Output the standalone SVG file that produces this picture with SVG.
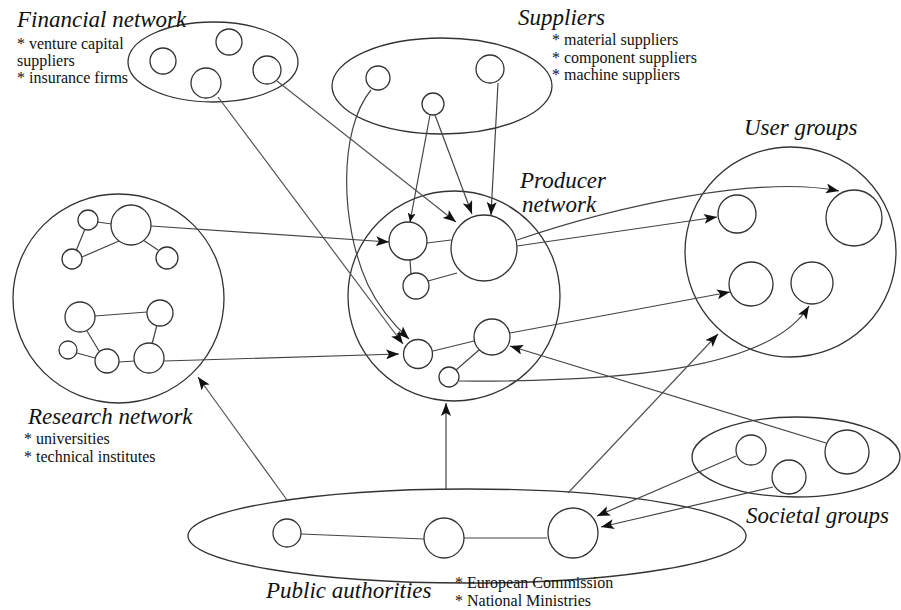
<svg xmlns="http://www.w3.org/2000/svg" width="901" height="610" viewBox="0 0 901 610">
<defs>
<marker id="ah" markerUnits="userSpaceOnUse" markerWidth="14" markerHeight="10" refX="13" refY="5" orient="auto">
<path d="M0,0 L13,5 L0,10 L3,5 Z" fill="#111"/>
</marker>
<marker id="ahs" markerUnits="userSpaceOnUse" markerWidth="10" markerHeight="8" refX="9" refY="4" orient="auto">
<path d="M0,0 L9,4 L0,8 L2,4 Z" fill="#111"/>
</marker>
</defs>
<style>
.grp{fill:none;stroke:#333;stroke-width:1.3}
.n{fill:#fff;stroke:#333;stroke-width:1.3}
.l{fill:none;stroke:#444;stroke-width:1.2}
.c{fill:none;stroke:#555;stroke-width:1.2}
.t{font-family:"Liberation Serif",serif;font-style:italic;font-size:23px;fill:#111}
.b{font-family:"Liberation Serif",serif;font-size:16px;fill:#111}
</style>
<rect width="901" height="610" fill="#fff"/>

<g id="financial-network">
<ellipse class="grp" cx="213" cy="62" rx="85" ry="40"/>
<circle class="n" cx="229" cy="42" r="13"/>
<circle class="n" cx="163" cy="61" r="13"/>
<circle class="n" cx="206" cy="83" r="15"/>
<circle class="n" cx="267" cy="70" r="14"/>
<text class="t" x="17" y="27">Financial network</text>
<text class="b" x="17" y="49">* venture capital</text>
<text class="b" x="17" y="66">suppliers</text>
<text class="b" x="17" y="83">* insurance firms</text>
</g>

<g id="suppliers">
<ellipse class="grp" cx="442" cy="86" rx="110" ry="48"/>
<circle class="n" cx="378" cy="78" r="12"/>
<circle class="n" cx="433" cy="104" r="11"/>
<circle class="n" cx="490" cy="69" r="14"/>
<text class="t" x="518" y="25">Suppliers</text>
<text class="b" x="552" y="45">* material suppliers</text>
<text class="b" x="552" y="63">* component suppliers</text>
<text class="b" x="552" y="80">* machine suppliers</text>
</g>

<g id="research-network">
<ellipse class="grp" cx="118.5" cy="298.5" rx="105.5" ry="104.5"/>
<g class="l">
<line x1="97" y1="222" x2="112" y2="224"/>
<line x1="85" y1="229" x2="76" y2="251"/>
<line x1="82" y1="257" x2="119" y2="241"/>
<line x1="143" y1="240" x2="158" y2="250"/>
<line x1="95" y1="316" x2="147" y2="312"/>
<line x1="157" y1="325" x2="152" y2="344"/>
<line x1="87" y1="331" x2="99" y2="351"/>
<line x1="77" y1="353" x2="95" y2="358"/>
<line x1="119" y1="362" x2="135" y2="361"/>
</g>
<circle class="n" cx="88" cy="220" r="10"/>
<circle class="n" cx="131" cy="225" r="20"/>
<circle class="n" cx="72" cy="259" r="10"/>
<circle class="n" cx="167" cy="258" r="11"/>
<circle class="n" cx="80" cy="317" r="15"/>
<circle class="n" cx="160" cy="313" r="13"/>
<circle class="n" cx="68" cy="350" r="9"/>
<circle class="n" cx="107" cy="361" r="12"/>
<circle class="n" cx="149" cy="358" r="15"/>
<text class="t" x="28" y="424">Research network</text>
<text class="b" x="24" y="444">* universities</text>
<text class="b" x="24" y="462">* technical institutes</text>
</g>

<g id="producer-network">
<ellipse class="grp" cx="454" cy="296" rx="106" ry="105"/>
<g class="l">
<line x1="427" y1="243" x2="451" y2="240"/>
<line x1="410" y1="260" x2="411" y2="274"/>
<line x1="428" y1="281" x2="457" y2="273"/>
<line x1="433" y1="351" x2="474" y2="341"/>
<line x1="456" y1="370" x2="479" y2="350"/>
</g>
<circle class="n" cx="408" cy="241" r="19"/>
<circle class="n" cx="484" cy="248" r="33"/>
<circle class="n" cx="416" cy="286" r="13"/>
<circle class="n" cx="418" cy="354" r="14.5"/>
<circle class="n" cx="492" cy="337" r="18"/>
<circle class="n" cx="449" cy="377" r="10"/>
<text class="t" x="520" y="188">Producer</text>
<text class="t" x="522" y="212">network</text>
</g>

<g id="user-groups">
<ellipse class="grp" cx="790.5" cy="252" rx="105.5" ry="105"/>
<circle class="n" cx="737" cy="214" r="19"/>
<circle class="n" cx="854" cy="218" r="28"/>
<circle class="n" cx="751" cy="284" r="22"/>
<circle class="n" cx="812" cy="283" r="21"/>
<text class="t" x="744" y="135">User groups</text>
</g>

<g id="societal-groups">
<ellipse class="grp" cx="796" cy="457" rx="104" ry="40"/>
<circle class="n" cx="751" cy="450" r="15"/>
<circle class="n" cx="789" cy="477" r="17"/>
<circle class="n" cx="847" cy="452" r="22"/>
<text class="t" x="746" y="523">Societal groups</text>
</g>

<g id="public-authorities">
<ellipse class="grp" cx="467" cy="536" rx="279" ry="47"/>
<g class="l">
<line x1="301" y1="534" x2="424" y2="539"/>
<line x1="464" y1="538" x2="547" y2="538"/>
</g>
<circle class="n" cx="287" cy="533" r="14"/>
<circle class="n" cx="444" cy="538" r="20"/>
<circle class="n" cx="573" cy="533" r="25"/>
<text class="t" x="266" y="598">Public authorities</text>
<text class="b" x="455" y="588">* European Commission</text>
<text class="b" x="455" y="606">* National Ministries</text>
</g>

<g id="connectors">
<line class="c" x1="277" y1="81" x2="456" y2="222" marker-end="url(#ah)"/>
<line class="c" x1="218" y1="97" x2="403" y2="344" marker-end="url(#ah)"/>
<path class="l" d="M371,90 C338,130 340,225 368,285 C380,310 395,326 409,339" marker-end="url(#ah)"/>
<line class="l" x1="430" y1="115" x2="410" y2="222" marker-end="url(#ahs)"/>
<line class="l" x1="435" y1="115" x2="472" y2="214" marker-end="url(#ah)"/>
<line class="l" x1="498" y1="83" x2="491" y2="215" marker-end="url(#ah)"/>
<line class="l" x1="151" y1="226" x2="389" y2="242" marker-end="url(#ah)"/>
<line class="l" x1="164" y1="361" x2="399" y2="354" marker-end="url(#ah)"/>
<path class="l" d="M517,240 C620,205 760,175 839,191" marker-end="url(#ah)"/>
<line class="l" x1="517" y1="246" x2="717" y2="217" marker-end="url(#ah)"/>
<line class="l" x1="510" y1="333" x2="730" y2="292" marker-end="url(#ah)"/>
<path class="l" d="M459,381 C620,382 770,370 809,306" marker-end="url(#ah)"/>
<line class="l" x1="826" y1="443" x2="510" y2="346" marker-end="url(#ah)"/>
<line class="l" x1="736" y1="456" x2="597" y2="516" marker-end="url(#ah)"/>
<line class="l" x1="773" y1="487" x2="601" y2="527" marker-end="url(#ah)"/>
<line class="l" x1="446" y1="489" x2="446" y2="403" marker-end="url(#ah)"/>
<line class="c" x1="287" y1="500" x2="198" y2="377" marker-end="url(#ah)"/>
<line class="c" x1="568" y1="493" x2="718" y2="334" marker-end="url(#ah)"/>
</g>
</svg>
